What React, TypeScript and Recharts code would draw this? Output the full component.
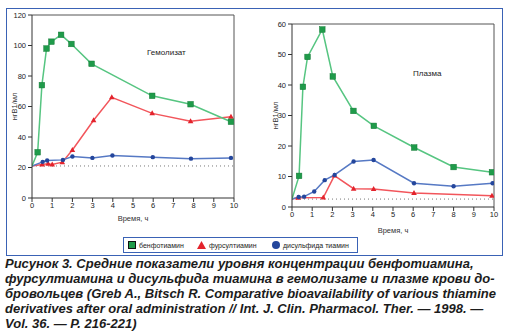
import React from "react";
import { LineChart, Line, XAxis, YAxis, ReferenceLine, Label } from "recharts";

// Гемолизат (hemolysate), нг B1/мл
const hemoBenfoT = [0, 0.28, 0.49, 0.72, 0.96, 1.44, 1.95, 2.95, 5.95, 7.85, 9.85];
const hemoBenfoV = [21, 30, 74, 98, 102.5, 107, 101, 88, 67, 61.5, 50];
const hemoFursT = [0, 0.5, 0.8, 1.0, 1.5, 2.0, 3.05, 3.95, 5.95, 7.85, 9.85];
const hemoFursV = [21, 22, 22.5, 22, 23.5, 31.5, 51, 66, 55.5, 50.3, 53.3];
const hemoDisT = [0, 0.53, 0.75, 1.53, 2.0, 2.99, 3.98, 5.98, 7.87, 9.85];
const hemoDisV = [21, 23.7, 24.6, 25, 27.2, 26.3, 27.9, 26.8, 25.8, 26.3];
const hemoBase = 21;

// Плазма (plasma), нг B1/мл
const plasBenfoT = [0, 0.35, 0.54, 0.77, 1.5, 2.02, 3.04, 4.05, 6.05, 8.0, 9.9];
const plasBenfoV = [2.6, 10.2, 39.4, 49.2, 58.2, 42.8, 31.5, 26.6, 19.5, 13.1, 11.4];
const plasFursT = [0, 0.3, 1.55, 2.1, 3.05, 4.04, 6.04, 9.9];
const plasFursV = [2.6, 3.0, 3.1, 10.3, 6.0, 5.9, 4.6, 3.7];
const plasDisT = [0, 0.33, 0.6, 1.1, 1.62, 2.11, 3.05, 4.04, 6.04, 8.0, 9.93];
const plasDisV = [2.6, 3.3, 3.4, 5.1, 8.8, 10.5, 14.9, 15.4, 7.8, 6.8, 7.8];
const plasBase = 2.6;

const xTicks = [0, 1, 2, 3, 4, 5, 6, 7, 8, 9, 10];
const hemoYTicks = [0, 20, 40, 60, 80, 100, 120];
const plasYTicks = [0, 10, 20, 30, 40, 50, 60];

const legendNames = ["бенфотиамин", "фурсултиамин", "дисульфида тиамин"];

const zip = (t: number[], v: number[]) => t.map((x, i) => ({ t: x, v: v[i] }));

const GREEN = "#1f9b4a";
const GREEN_LINE = "#56c581";
const RED = "#e3232c";
const RED_LINE = "#f2555b";
const BLUE = "#24469c";
const BLUE_LINE = "#5679c4";
const FONT = "'Liberation Sans', Arial, sans-serif";

const SquareDot = (p: any) => {
  if (p.index === 0 || p.cx == null) return <g key={p.key} />;
  return <rect key={p.key} x={p.cx - 2.8} y={p.cy - 2.8} width={5.6} height={5.6} fill={GREEN} stroke="#157a37" strokeWidth={0.5} />;
};
const TriDot = (p: any) => {
  if (p.index === 0 || p.cx == null) return <g key={p.key} />;
  const { cx, cy } = p;
  return <path key={p.key} d={`M${cx},${cy - 3} L${cx + 2.8},${cy + 2} L${cx - 2.8},${cy + 2} Z`} fill={RED} />;
};
const CircleDot = (p: any) => {
  if (p.index === 0 || p.cx == null) return <g key={p.key} />;
  return <circle key={p.key} cx={p.cx} cy={p.cy} r={2.2} fill={BLUE} />;
};

const yLabel = (dx: number) => (props: any) => {
  const vb = props.viewBox;
  const x = vb.x + dx;
  const y = vb.y + vb.height / 2;
  return (
    <text x={x} y={y} transform={`rotate(-90 ${x} ${y})`} textAnchor="middle" dominantBaseline="central" fontSize={7.5} fill="#333" fontFamily={FONT}>
      нгB1/мл
    </text>
  );
};
const xLabel = (dy: number) => (props: any) => {
  const vb = props.viewBox;
  return (
    <text x={vb.x + vb.width / 2} y={vb.y + dy} textAnchor="middle" fontSize={7.5} fill="#333" fontFamily={FONT}>
      Время, ч
    </text>
  );
};

type PanelProps = {
  benfo: { t: number; v: number }[];
  furs: { t: number; v: number }[];
  dis: { t: number; v: number }[];
  base: number;
  yMax: number;
  yTicks: number[];
  margin: { top: number; right: number; bottom: number; left: number };
  labelDx: number;
  labelDy: number;
};

function Panel({ benfo, furs, dis, base, yMax, yTicks, margin, labelDx, labelDy }: PanelProps) {
  const tick = { fontSize: 7.5, fill: "#222", fontFamily: FONT };
  return (
    <LineChart width={255} height={240} margin={margin}>
      <XAxis
        dataKey="t"
        type="number"
        domain={[0, 10]}
        ticks={xTicks}
        height={30}
        tick={tick}
        tickSize={4}
        tickMargin={1}
        stroke="#333"
        allowDataOverflow
      >
        <Label content={xLabel(labelDy)} />
      </XAxis>
      <YAxis
        type="number"
        domain={[0, yMax]}
        ticks={yTicks}
        width={20}
        tick={tick}
        tickSize={4}
        tickMargin={2}
        stroke="#333"
        allowDataOverflow
      >
        <Label content={yLabel(labelDx)} />
      </YAxis>
      <ReferenceLine y={yMax} stroke="#555" strokeWidth={1} />
      <ReferenceLine x={10} stroke="#555" strokeWidth={1} />
      <ReferenceLine y={base} stroke="#777" strokeDasharray="1 3" strokeWidth={1} />
      <Line data={furs} dataKey="v" stroke={RED_LINE} strokeWidth={1.5} dot={TriDot} isAnimationActive={false} />
      <Line data={dis} dataKey="v" stroke={BLUE_LINE} strokeWidth={1.5} dot={CircleDot} isAnimationActive={false} />
      <Line data={benfo} dataKey="v" stroke={GREEN_LINE} strokeWidth={1.5} dot={SquareDot} isAnimationActive={false} />
    </LineChart>
  );
}

export default function App() {
  const legendText: React.CSSProperties = { position: "absolute", top: 3, whiteSpace: "nowrap", lineHeight: "9px" };
  return (
    <div style={{ position: "absolute", left: 0, top: 0, width: 510, height: 334, background: "#fff", fontFamily: FONT, overflow: "hidden" }}>
      <div style={{ position: "absolute", left: 6, top: 8, width: 497, height: 248, border: "1px solid #3a62b5", boxSizing: "border-box" }} />
      <div style={{ position: "absolute", left: 0, top: 0 }}>
        <Panel
          benfo={zip(hemoBenfoT, hemoBenfoV)}
          furs={zip(hemoFursT, hemoFursV)}
          dis={zip(hemoDisT, hemoDisV)}
          base={hemoBase}
          yMax={120}
          yTicks={hemoYTicks}
          margin={{ top: 15, right: 21, bottom: 12, left: 12 }}
          labelDx={2}
          labelDy={23}
        />
      </div>
      <div style={{ position: "absolute", left: 255, top: 0 }}>
        <Panel
          benfo={zip(plasBenfoT, plasBenfoV)}
          furs={zip(plasFursT, plasFursV)}
          dis={zip(plasDisT, plasDisV)}
          base={plasBase}
          yMax={60}
          yTicks={plasYTicks}
          margin={{ top: 24, right: 16, bottom: 3, left: 17 }}
          labelDx={3}
          labelDy={26}
        />
      </div>
      <div style={{ position: "absolute", left: 147, top: 48, fontSize: 8, color: "#222" }}>Гемолизат</div>
      <div style={{ position: "absolute", left: 413, top: 69, fontSize: 8, color: "#222" }}>Плазма</div>
      <div
        style={{
          position: "absolute",
          left: 123,
          top: 237,
          width: 235,
          height: 16,
          border: "1px solid #3a62b5",
          boxSizing: "border-box",
          fontSize: 7,
          color: "#222",
        }}
      >
        <span style={{ position: "absolute", left: 4, top: 3, width: 8, height: 8, background: GREEN, border: "1px solid #111", boxSizing: "border-box" }} />
        <span style={{ ...legendText, left: 15 }}>{legendNames[0]}</span>
        <svg width={9} height={8} style={{ position: "absolute", left: 73, top: 3 }}>
          <path d="M4.5,0 L9,8 L0,8 Z" fill={RED} />
        </svg>
        <span style={{ ...legendText, left: 85 }}>{legendNames[1]}</span>
        <span style={{ position: "absolute", left: 148, top: 3, width: 8, height: 8, borderRadius: 4, background: BLUE }} />
        <span style={{ ...legendText, left: 159 }}>{legendNames[2]}</span>
      </div>
      <div
        style={{
          position: "absolute",
          left: 5,
          top: 256,
          width: 505,
          fontSize: 13,
          lineHeight: "15px",
          fontWeight: "bold",
          fontStyle: "italic",
          color: "#1c1c1c",
          whiteSpace: "nowrap",
        }}
      >
        Рисунок 3. Средние показатели уровня концентрации бенфотиамина,
        <br />
        фурсултиамина и дисульфида тиамина в гемолизате и плазме крови до-
        <br />
        бровольцев (Greb A., Bitsch R. Comparative bioavailability of various thiamine
        <br />
        derivatives after oral administration // Int. J. Clin. Pharmacol. Ther. — 1998. —
        <br />
        Vol. 36. — P. 216-221)
      </div>
    </div>
  );
}
